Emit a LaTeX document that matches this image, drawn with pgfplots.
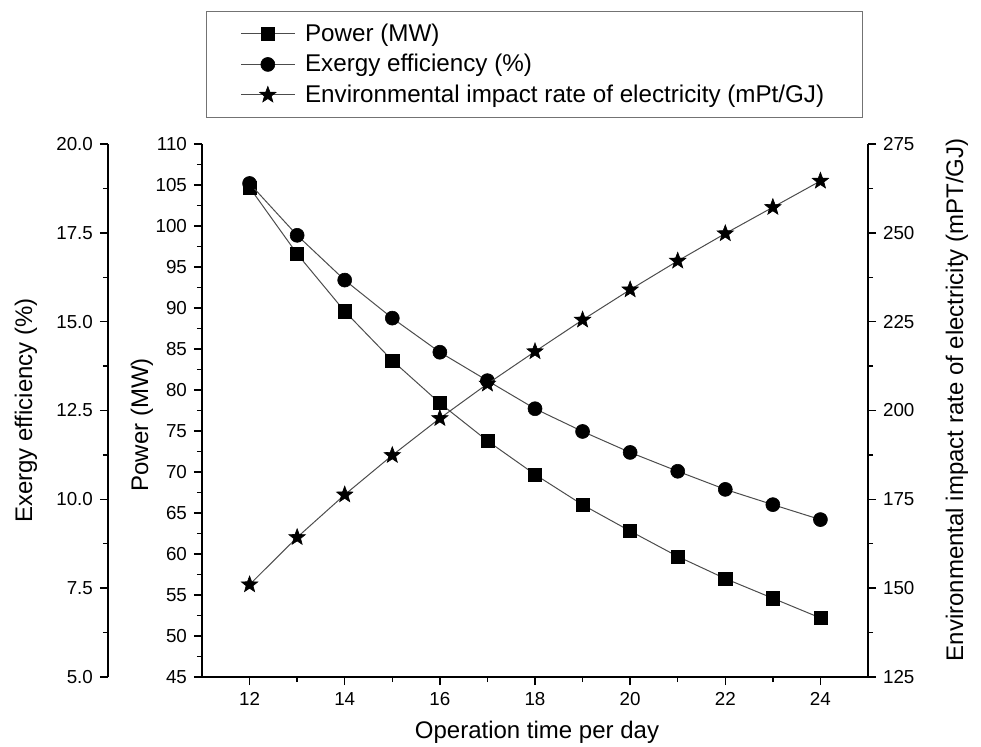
\documentclass[border=0pt]{standalone}
\usepackage{fontspec}
\setmainfont{Liberation Sans}
\usepackage{pgfplots}
\pgfplotsset{compat=1.18}

% filled five-pointed star
\pgfdeclareplotmark{fstar}{%
  \pgfpathmoveto{\pgfpointpolar{90}{\pgfplotmarksize}}%
  \pgfpathlineto{\pgfpointpolar{126}{0.42\pgfplotmarksize}}%
  \pgfpathlineto{\pgfpointpolar{162}{\pgfplotmarksize}}%
  \pgfpathlineto{\pgfpointpolar{198}{0.42\pgfplotmarksize}}%
  \pgfpathlineto{\pgfpointpolar{234}{\pgfplotmarksize}}%
  \pgfpathlineto{\pgfpointpolar{270}{0.42\pgfplotmarksize}}%
  \pgfpathlineto{\pgfpointpolar{306}{\pgfplotmarksize}}%
  \pgfpathlineto{\pgfpointpolar{342}{0.42\pgfplotmarksize}}%
  \pgfpathlineto{\pgfpointpolar{18}{\pgfplotmarksize}}%
  \pgfpathlineto{\pgfpointpolar{54}{0.42\pgfplotmarksize}}%
  \pgfpathclose
  \pgfusepathqfillstroke}

\pgfplotsset{
  base/.style={scale only axis, width=333pt, height=266.5pt, xmin=11, xmax=25,
    tick align=outside, major tick length=4pt, minor tick length=2.5pt,
    every tick/.style={black, line width=0.7pt},
    axis line style={black, line width=0.8pt},
    tick label style={font=\fontsize{9.4}{11}\selectfont},
    label style={font=\fontsize{12}{14}\selectfont},
    /pgf/number format/assume math mode=true},
  ser/.style={black!70, line width=0.5pt, mark options={black, fill=black, solid, line width=0.3pt}},
}

\begin{document}
\begin{tikzpicture}
% power, main axis
\begin{axis}[base, axis x line*=bottom, axis y line*=left,
  ymin=45, ymax=110, ytick={45,50,...,110}, minor y tick num=1,
  xtick={12,14,...,24}, minor x tick num=1,
  xlabel={Operation time per day}, ylabel={Power (MW)},
  xlabel style={at={(axis description cs:0.503,-0.103)}, anchor=center},
  ylabel style={at={(axis description cs:-0.0901,0.473)}, anchor=center},
  legend style={at={(0.006,1.2495)}, anchor=north west, draw=black!55, line width=0.6pt,
    font=\fontsize{12.1}{14.5}\selectfont, inner xsep=17pt, inner ysep=4pt, row sep=1pt,
    cells={anchor=west}, /tikz/every odd column/.append style={column sep=3pt}},
  legend image code/.code={\draw[mark repeat=2,mark phase=2] plot coordinates {(0cm,0cm) (0.47cm,0cm) (0.94cm,0cm)};}]
\addplot[ser, mark=square*, mark size=3.3pt] coordinates {
(12,104.7) (13,96.6) (14,89.6) (15,83.6) (16,78.4) (17,73.8) (18,69.7)
(19,66.0) (20,62.8) (21,59.7) (22,57.0) (23,54.6) (24,52.2)};
\addlegendentry{Power (MW)}
\addlegendimage{ser, mark=*, mark size=3.5pt}
\addlegendentry{Exergy efficiency (\%)}
\addlegendimage{ser, mark=fstar, mark size=4.3pt}
\addlegendentry{Environmental impact rate of electricity (mPt/GJ)}
\end{axis}

% exergy data
\begin{axis}[base, hide axis, ymin=5, ymax=20]
\addplot[ser, mark=*, mark size=3.5pt] coordinates {
(12,18.89) (13,17.43) (14,16.17) (15,15.10) (16,14.14) (17,13.34) (18,12.55)
(19,11.91) (20,11.32) (21,10.79) (22,10.28) (23,9.85) (24,9.43)};
\end{axis}

% exergy axis, offset to the left
\begin{axis}[base, at={(-47pt,0)}, axis x line=none, axis y line*=left,
  ymin=5, ymax=20, ytick={5,7.5,...,20}, minor y tick num=1,
  yticklabel style={/pgf/number format/fixed, /pgf/number format/zerofill, /pgf/number format/precision=1},
  ylabel={Exergy efficiency (\%)},
  ylabel style={at={(axis description cs:-0.1231,0.5)}, anchor=center}]
\end{axis}

% environmental impact, right axis
\begin{axis}[base, axis x line=none, axis y line*=right,
  ymin=125, ymax=275, ytick={125,150,...,275}, minor y tick num=1,
  ylabel={Environmental impact rate of electricity (mPT/GJ)},
  ylabel style={at={(axis description cs:1.1336,0.52)}, anchor=center}]
\addplot[ser, mark=fstar, mark size=4.3pt] coordinates {
(12,151.0) (13,164.3) (14,176.3) (15,187.4) (16,197.8) (17,207.5) (18,216.6)
(19,225.5) (20,234.0) (21,242.1) (22,249.8) (23,257.2) (24,264.6)};
\end{axis}

\pgfresetboundingbox
\useasboundingbox (-101pt,-34.5pt) rectangle (389.5pt,338.5pt);
\end{tikzpicture}
\end{document}
